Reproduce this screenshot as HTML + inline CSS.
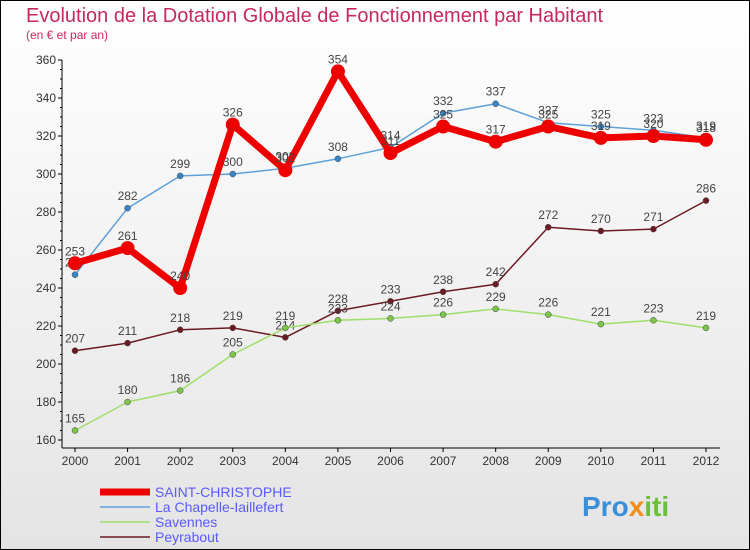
<!DOCTYPE html>
<html><head><meta charset="utf-8"><style>
body{margin:0;background:#fff}
svg{display:block;font-family:"Liberation Sans",sans-serif}
</style></head><body>
<svg id="c" width="750" height="550" viewBox="0 0 750 550">
<defs><linearGradient id="bg" x1="0" y1="0" x2="0" y2="1"><stop offset="0" stop-color="#ffffff"/><stop offset="1" stop-color="#e4e4e4"/></linearGradient></defs>
<rect x="0.5" y="0.5" width="749" height="549" fill="url(#bg)" stroke="#000"/>
<text x="26" y="22" font-size="20" fill="#c8285a">Evolution de la Dotation Globale de Fonctionnement par Habitant</text>
<text x="26" y="39" font-size="12" fill="#c8285a">(en € et par an)</text>
<g id="axes"></g><g id="series"></g><g id="legend"></g>
<text x="582" y="516" font-size="28" font-weight="bold" fill="#3a8fd8">Pro<tspan fill="#f28c1b">x</tspan><tspan fill="#6cbf3a">iti</tspan></text>
</svg>
<script>
const years=[2000,2001,2002,2003,2004,2005,2006,2007,2008,2009,2010,2011,2012];
const yTicks=[160,180,200,220,240,260,280,300,320,340,360];
const stChristophe=[253,261,240,326,302,354,311,325,317,325,319,320,318];
const laChapelle=[247,282,299,300,303,308,314,332,337,327,325,323,319];
const savennes=[165,180,186,205,219,223,224,226,229,226,221,223,219];
const peyrabout=[207,211,218,219,214,228,233,238,242,272,270,271,286];
const seriesNames=["SAINT-CHRISTOPHE","La Chapelle-Iaillefert","Savennes","Peyrabout"];
const NS="http://www.w3.org/2000/svg";
const xs=i=>75+i*(706-75)/12;
const ys=v=>440-(v-160)*1.9;
function el(t,a,p){const e=document.createElementNS(NS,t);for(const k in a)e.setAttribute(k,a[k]);p.appendChild(e);return e;}
const ax=document.getElementById('axes');
const yl=el('line',{x1:62,y1:60,x2:62,y2:448,stroke:'#000'},ax);


const xl=el('line',{x1:62,y1:448,x2:720,y2:448,stroke:'#000'},ax);


yTicks.forEach(v=>{const y=ys(v);
el('line',{x1:58,y1:y,x2:62,y2:y,stroke:'#000'},ax);
for(let m=1;m<4;m++){if(v<360)el('line',{x1:60,y1:y-m*9.5,x2:62,y2:y-m*9.5,stroke:'#000'},ax);}
const t=el('text',{x:56,y:y+4,'font-size':12,'text-anchor':'end',fill:'#333'},ax);t.textContent=v;

});
years.forEach((yr,i)=>{const x=xs(i);
el('line',{x1:x,y1:448,x2:x,y2:452,stroke:'#000'},ax);
const t=el('text',{x:x,y:465,'font-size':12,'text-anchor':'middle',fill:'#333'},ax);t.textContent=yr;

});
const sg=document.getElementById('series');
const defs=[[peyrabout,'#6b1a22',1.5,3,'#6b1a22','peyrabout'],[savennes,'#9ede6a',1.5,3,'#7cc44a','savennes'],[laChapelle,'#5fa0d8',1.5,3,'#3a85c8','la-chapelle'],[stChristophe,'#ee0000',7,7,'#ee0000','saint-christophe']];
defs.forEach(([d,c,w,r,fc,n])=>{
const g=el('g',{},sg);


const l=el('polyline',{points:d.map((v,i)=>xs(i)+','+ys(v)).join(' '),fill:'none',stroke:c,'stroke-width':w,'stroke-linejoin':'round'},g);


d.forEach((v,i)=>{const p=el('circle',{cx:xs(i),cy:ys(v),r:r,fill:fc,stroke:r>5?'none':'#444','stroke-width':0.5},g);


const t=el('text',{x:xs(i),y:ys(v)-8,'font-size':12,'text-anchor':'middle',fill:'#444'},g);t.textContent=v;

});
});
const lg=document.getElementById('legend');
const lc=[['#ee0000',7],['#5fa0d8',1.5],['#9ede6a',1.5],['#6b1a22',1.5]];
seriesNames.forEach((s,i)=>{const y=492+i*15;
const g=el('g',{},lg);


el('line',{x1:100,y1:y,x2:150,y2:y,stroke:lc[i][0],'stroke-width':lc[i][1]},g);
const t=el('text',{x:155,y:y+5,'font-size':14,fill:'#5a5aff'},g);t.textContent=s;});
</script>
</body></html>
